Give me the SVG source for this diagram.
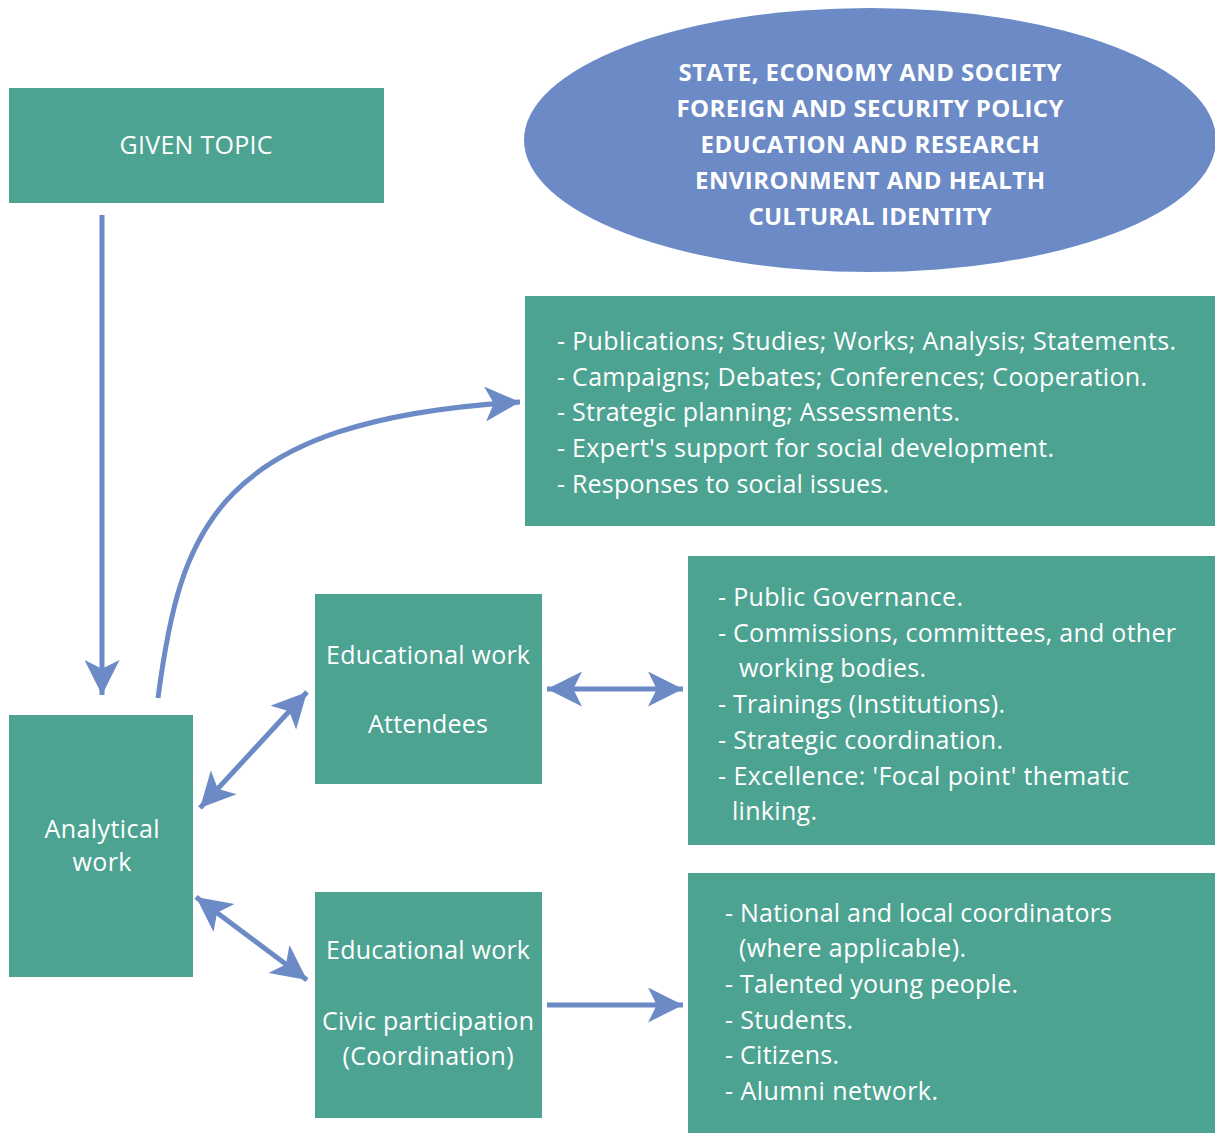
<svg xmlns="http://www.w3.org/2000/svg" width="1215" height="1133" viewBox="0 0 1215 1133">
<defs>
<style>
.box{fill:#4DA391}
.ell{fill:#6B8AC6}
.t{font-family:"Open Sans","Noto Sans",sans-serif;font-size:25px;fill:#ffffff}
.c{text-anchor:middle}
.b{font-weight:bold;font-size:24px}
.ln{stroke:#6B8AC6;stroke-width:5;fill:none}
</style>
<marker id="ah" viewBox="0 0 10 10" refX="10" refY="5" markerWidth="7.5" markerHeight="7" markerUnits="strokeWidth" orient="auto-start-reverse">
<path d="M0,0 L10,5 L0,10 L2.5,5 Z" fill="#6B8AC6"/>
</marker>
</defs>
<rect width="1215" height="1133" fill="#ffffff"/>
<g id="given-topic">
<rect class="box" x="9" y="88" width="375" height="115"/>
<text class="t c" x="196" y="154" textLength="153">GIVEN TOPIC</text>
</g>
<g id="themes">
<ellipse class="ell" cx="870" cy="140" rx="346" ry="132"/>
<text class="t c b" x="870" y="81" textLength="383">STATE, ECONOMY AND SOCIETY</text>
<text class="t c b" x="870" y="117" textLength="387">FOREIGN AND SECURITY POLICY</text>
<text class="t c b" x="870" y="153" textLength="339">EDUCATION AND RESEARCH</text>
<text class="t c b" x="870" y="189" textLength="350">ENVIRONMENT AND HEALTH</text>
<text class="t c b" x="870" y="225" textLength="243">CULTURAL IDENTITY</text>
</g>
<g id="outputs">
<rect class="box" x="525" y="296" width="690" height="230"/>
<text class="t" x="557" y="350" textLength="619">- Publications; Studies; Works; Analysis; Statements.</text>
<text class="t" x="557" y="386" textLength="590">- Campaigns; Debates; Conferences; Cooperation.</text>
<text class="t" x="557" y="421" textLength="403">- Strategic planning; Assessments.</text>
<text class="t" x="557" y="457" textLength="497">- Expert's support for social development.</text>
<text class="t" x="557" y="493" textLength="332">- Responses to social issues.</text>
</g>
<g id="analytical-work">
<rect class="box" x="9" y="715" width="184" height="262"/>
<text class="t c" x="102" y="838" textLength="115">Analytical</text>
<text class="t c" x="102" y="871" textLength="59">work</text>
</g>
<g id="edu-attendees">
<rect class="box" x="315" y="594" width="227" height="190"/>
<text class="t c" x="428" y="664" textLength="204">Educational work</text>
<text class="t c" x="428" y="733" textLength="120">Attendees</text>
</g>
<g id="governance">
<rect class="box" x="688" y="556" width="527" height="289"/>
<text class="t" x="718" y="606" textLength="245">- Public Governance.</text>
<text class="t" x="718" y="642" textLength="458">- Commissions, committees, and other</text>
<text class="t" x="739" y="677" textLength="187">working bodies.</text>
<text class="t" x="718" y="713" textLength="287">- Trainings (Institutions).</text>
<text class="t" x="718" y="749" textLength="285">- Strategic coordination.</text>
<text class="t" x="718" y="785" textLength="411">- Excellence: 'Focal point' thematic</text>
<text class="t" x="732" y="820" textLength="85">linking.</text>
</g>
<g id="edu-civic">
<rect class="box" x="315" y="892" width="227" height="226"/>
<text class="t c" x="428" y="959" textLength="204">Educational work</text>
<text class="t c" x="428" y="1030" textLength="212">Civic participation</text>
<text class="t c" x="428" y="1065" textLength="171">(Coordination)</text>
</g>
<g id="participants">
<rect class="box" x="688" y="873" width="527" height="260"/>
<text class="t" x="725" y="922" textLength="387">- National and local coordinators</text>
<text class="t" x="739" y="957" textLength="227">(where applicable).</text>
<text class="t" x="725" y="993" textLength="293">- Talented young people.</text>
<text class="t" x="725" y="1029" textLength="128">- Students.</text>
<text class="t" x="725" y="1064" textLength="114">- Citizens.</text>
<text class="t" x="725" y="1100" textLength="213">- Alumni network.</text>
</g>
<g id="connectors">
<path class="ln" d="M102,215 L102,695" stroke-width="4.5" marker-end="url(#ah)"/>
<path class="ln" d="M158,698 C180,530 215,420 520,402" marker-end="url(#ah)"/>
<path class="ln" d="M200,808 L307,692" marker-start="url(#ah)" marker-end="url(#ah)"/>
<path class="ln" d="M547,689 L683,689" marker-start="url(#ah)" marker-end="url(#ah)"/>
<path class="ln" d="M196,897 L307,980" marker-start="url(#ah)" marker-end="url(#ah)"/>
<path class="ln" d="M547,1005 L683,1005" marker-end="url(#ah)"/>
</g>
</svg>
